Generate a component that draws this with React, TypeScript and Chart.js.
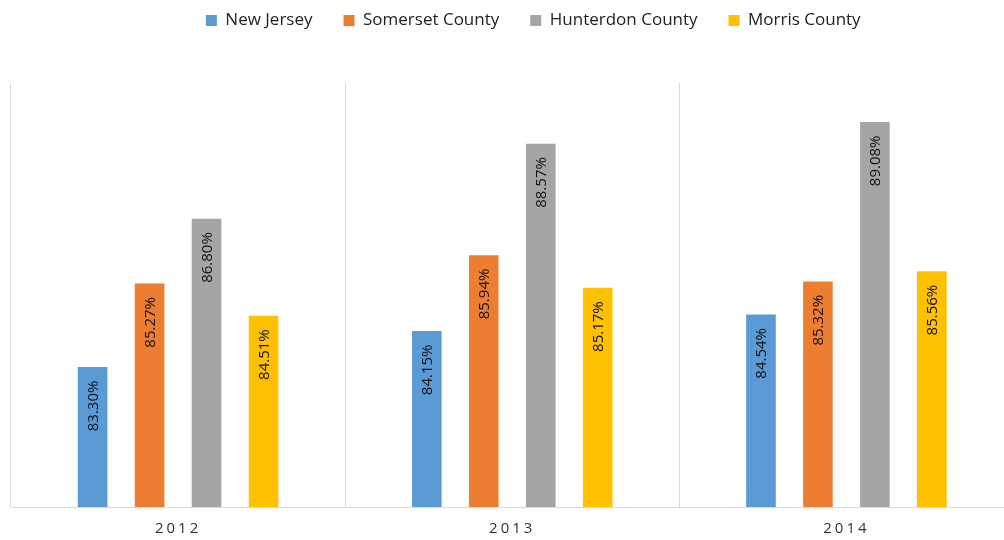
import React, { useEffect, useRef } from "react";
import { Chart, registerables } from "chart.js";

Chart.register(...registerables);

const years = ["2012", "2013", "2014"];
const seriesNames = ["New Jersey", "Somerset County", "Hunterdon County", "Morris County"];
const newJersey = [83.3, 84.15, 84.54];
const somerset = [85.27, 85.94, 85.32];
const hunterdon = [86.8, 88.57, 89.08];
const morris = [84.51, 85.17, 85.56];
const seriesColors = ["#5B9BD5", "#ED7D31", "#A5A5A5", "#FFC000"];
const yMin = 80;
const yMax = 90;

const FONT = '"Open Sans", "Noto Sans", sans-serif';

export default function App() {
  const ref = useRef<HTMLCanvasElement | null>(null);

  useEffect(() => {
    const canvas = ref.current;
    if (!canvas) return;
    const values = [newJersey, somerset, hunterdon, morris];

    const legendSpacer = {
      id: "legendSpacer",
      beforeInit(chart: any) {
        const legend = chart.legend;
        if (!legend) return;
        const orig = legend.fit;
        legend.fit = function () {
          orig.call(this);
          this.height = 83;
        };
      },
      afterLayout(chart: any) {
        const l = chart.legend;
        if (!l) return;
        l.left += 21;
        l.right += 21;
        l.top -= 19;
        l.bottom -= 19;
      },
    };

    const barLabels = {
      id: "barLabels",
      afterDatasetsDraw(chart: any) {
        const ctx = chart.ctx;
        chart.data.datasets.forEach((ds: any, i: number) => {
          const meta = chart.getDatasetMeta(i);
          meta.data.forEach((bar: any, j: number) => {
            const v = ds.data[j] as number;
            ctx.save();
            ctx.translate(bar.x + 1, bar.y + 13.5);
            ctx.rotate(-Math.PI / 2);
            ctx.textAlign = "right";
            ctx.textBaseline = "middle";
            ctx.font = `15px ${FONT}`;
            ctx.fillStyle = "#111";
            ctx.fillText(v.toFixed(2) + "%", 0, 0);
            ctx.restore();
          });
        });
        ctx.letterSpacing = "3px";
      },
      afterDraw(chart: any) {
        chart.ctx.letterSpacing = "0px";
      },
    };

    const chart = new Chart(canvas, {
      type: "bar",
      data: {
        labels: years,
        datasets: seriesNames.map((name, i) => ({
          label: name,
          data: values[i],
          backgroundColor: seriesColors[i],
          borderWidth: 0,
          categoryPercentage: 0.682,
          barPercentage: 0.52,
        })),
      },
      options: {
        responsive: false,
        animation: false,
        devicePixelRatio: 1,
        layout: { padding: { left: 11, right: 10.5, top: 0, bottom: 2 } },
        plugins: {
          legend: {
            position: "top",
            align: "center",
            labels: {
              boxWidth: 11,
              boxHeight: 11,
              padding: 31,
              color: "#222",
              font: { family: FONT, size: 17 },
            },
          },
          tooltip: { enabled: false },
          title: { display: false },
        },
        scales: {
          x: {
            grid: { color: "#d9d9d9", drawTicks: false, offset: true, lineWidth: 1 },
            border: { color: "#d9d9d9", width: 1 },
            ticks: {
              z: 1,
              padding: 13,
              color: "#333",
              font: { family: FONT, size: 15 },
            },
            afterFit(scale: any) {
              scale.height = 31;
            },
          },
          y: {
            display: false,
            min: yMin,
            max: yMax,
          },
        },
      },
      plugins: [legendSpacer, barLabels],
    });

    return () => chart.destroy();
  }, []);

  return (
    <div
      style={{
        position: "fixed",
        left: 0,
        top: 0,
        width: 1004,
        height: 540,
        overflow: "hidden",
        background: "#fff",
      }}
    >
      <canvas
        ref={ref}
        width={1024}
        height={540}
        style={{ display: "block", width: 1024, height: 540 }}
      />
    </div>
  );
}
